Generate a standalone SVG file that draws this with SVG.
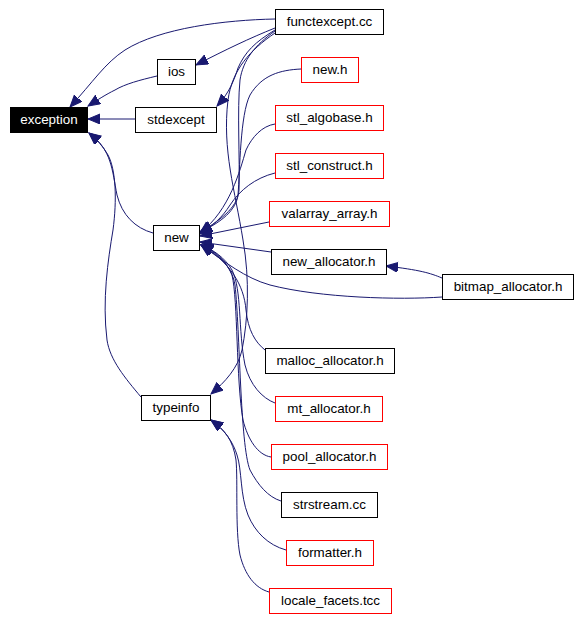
<svg xmlns="http://www.w3.org/2000/svg" width="580" height="619" viewBox="0 0 580 619">
<defs>
<style>
.n rect{fill:#ffffff;stroke:#000000;stroke-width:1}
.n.r rect{stroke:#ff0000}
.n text{font-family:"Liberation Sans",Arial,sans-serif;font-size:13.4px;fill:#000000;text-anchor:middle}
#n_exception rect{fill:#000000}
#n_exception text{fill:#ffffff}
.e path{fill:none;stroke:#191970;stroke-width:1;marker-end:url(#ah)}
</style>
<marker id="ah" markerUnits="userSpaceOnUse" markerWidth="13" markerHeight="11" refX="12" refY="5" orient="auto">
<path d="M0,0 L12,5 L0,10 z" fill="#191970" stroke="#191970" stroke-width="1"/>
</marker>
</defs>
<rect width="580" height="619" fill="#ffffff"/>
<g class="e" id="edges">
<path d="M275,19 C225,20 160,28 125,50 C105,63 93,82 70,107"/>
<path d="M157,76 C140,80 125,84 115,90 C105,95 99,99 88,106"/>
<path d="M135,119 L88,119"/>
<path d="M153,233 C135,228 122,215 117,195 C112,170 112,150 89,133"/>
<path d="M141,397 C125,378 110,360 107,340 C102,300 108,260 113,230 C117,200 116,170 108,155 C103,146 97,140 89,133"/>
<path d="M275,28 C250,38 225,50 196,65"/>
<path d="M275,30 C255,42 245,52 238,68 C234,80 230,92 217,106"/>
<path d="M275,31 C255,45 243,60 240,80 C237,110 240,160 239,190 C238,205 225,218 200,232"/>
<path d="M275,33 C250,50 232,70 228,100 C222,150 235,190 243,240 C250,280 248,320 242,350 C238,368 225,382 211,394"/>
<path d="M301,69 C280,70 262,75 250,95 C240,115 240,170 238,195 C236,210 222,222 200,232"/>
<path d="M275,124 C262,126 252,137 246,150 C240,170 230,210 200,233"/>
<path d="M275,173 C255,178 240,190 230,205 C222,218 212,226 200,234"/>
<path d="M269,222 L200,236"/>
<path d="M271,252 L200,242"/>
<path d="M442,278 C430,273 420,270 386,266"/>
<path d="M442,297 C400,300 320,298 270,285 C245,278 225,262 201,245"/>
<path d="M265,350 C255,342 248,330 246,310 C244,285 230,262 201,245"/>
<path d="M275,403 C262,398 250,385 245,365 C238,330 242,290 232,270 C225,258 214,250 201,245"/>
<path d="M271,457 C258,455 248,440 243,420 C236,380 238,300 232,275 C226,260 214,250 201,245"/>
<path d="M281,501 C268,497 258,485 250,470 C240,445 240,330 235,285 C232,265 215,252 201,245"/>
<path d="M286,550 C268,545 255,532 248,515 C240,495 242,470 237,455 C233,442 225,430 211,420"/>
<path d="M269,592 C255,588 245,575 240,555 C235,530 238,480 236,460 C233,440 225,430 211,420"/>
</g>
<g class="n" id="n_exception"><rect x="10.5" y="107.5" width="77" height="25"/><text x="49" y="124">exception</text></g>
<g class="n" id="n_ios"><rect x="157.5" y="59.5" width="38" height="25"/><text x="176.5" y="76">ios</text></g>
<g class="n" id="n_stdexcept"><rect x="135.5" y="107.5" width="81" height="25"/><text x="176" y="124">stdexcept</text></g>
<g class="n" id="n_functexcept"><rect x="275.5" y="9.5" width="108" height="25"/><text x="329.5" y="26">functexcept.cc</text></g>
<g class="n r" id="n_newh"><rect x="301.5" y="57.5" width="57" height="25"/><text x="330" y="74">new.h</text></g>
<g class="n r" id="n_stl_algobase"><rect x="275.5" y="105.5" width="108" height="25"/><text x="329.5" y="122">stl_algobase.h</text></g>
<g class="n r" id="n_stl_construct"><rect x="275.5" y="153.5" width="108" height="25"/><text x="329.5" y="170">stl_construct.h</text></g>
<g class="n r" id="n_valarray_array"><rect x="269.5" y="201.5" width="120" height="25"/><text x="329.5" y="218">valarray_array.h</text></g>
<g class="n" id="n_new"><rect x="153.5" y="225.5" width="46" height="25"/><text x="176.5" y="242">new</text></g>
<g class="n" id="n_new_allocator"><rect x="271.5" y="249.5" width="115" height="25"/><text x="329" y="266">new_allocator.h</text></g>
<g class="n" id="n_bitmap_allocator"><rect x="442.5" y="274.5" width="131" height="25"/><text x="508" y="291">bitmap_allocator.h</text></g>
<g class="n" id="n_malloc_allocator"><rect x="265.5" y="348.5" width="129" height="25"/><text x="330" y="365">malloc_allocator.h</text></g>
<g class="n" id="n_typeinfo"><rect x="141.5" y="395.5" width="69" height="25"/><text x="176" y="412">typeinfo</text></g>
<g class="n r" id="n_mt_allocator"><rect x="275.5" y="396.5" width="107" height="25"/><text x="329" y="413">mt_allocator.h</text></g>
<g class="n r" id="n_pool_allocator"><rect x="271.5" y="444.5" width="116" height="25"/><text x="329.5" y="461">pool_allocator.h</text></g>
<g class="n" id="n_strstream"><rect x="281.5" y="492.5" width="96" height="25"/><text x="329.5" y="509">strstream.cc</text></g>
<g class="n r" id="n_formatter"><rect x="286.5" y="540.5" width="87" height="25"/><text x="330" y="557">formatter.h</text></g>
<g class="n r" id="n_locale_facets"><rect x="269.5" y="588.5" width="122" height="25"/><text x="330.5" y="605">locale_facets.tcc</text></g>
</svg>
